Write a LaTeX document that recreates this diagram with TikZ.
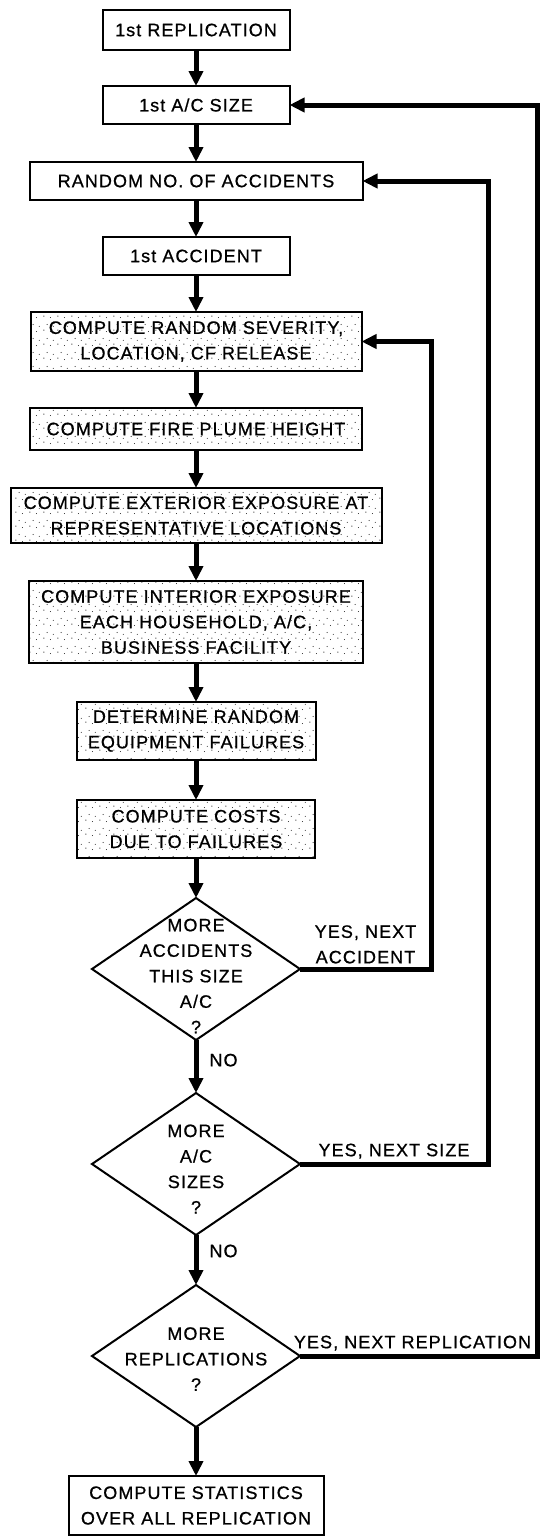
\documentclass[tikz,border=0pt]{standalone}
\usepackage{fontspec}
\setmainfont{Liberation Sans}
\newfontfamily\chartfont[LetterSpace=6, FakeBold=0.8]{Liberation Sans}
\usetikzlibrary{arrows.meta, positioning, shapes.geometric, patterns.meta}

\tikzdeclarepattern{
  name=stipple,
  bounding box={(0pt,0pt) and (14pt,14pt)},
  tile size={(14pt,14pt)},
  code={
    \pgfpathcircle{\pgfpoint{2pt}{3pt}}{0.6pt}
    \pgfpathcircle{\pgfpoint{9pt}{1.5pt}}{0.5pt}
    \pgfpathcircle{\pgfpoint{5.5pt}{9pt}}{0.6pt}
    \pgfpathcircle{\pgfpoint{12pt}{7pt}}{0.5pt}
    \pgfusepath{fill}
  }
}

\begin{document}
\begin{tikzpicture}[
    node distance=38pt,
    txt/.style={font=\chartfont\fontsize{18}{25.5}\selectfont, align=center},
    box/.style={draw, line width=2pt, txt, outer sep=0pt, inner sep=4pt,
                minimum height=38pt},
    dotbox/.style={box, pattern=stipple},
    decision/.style={diamond, draw, line width=2pt, outer sep=0pt, inner sep=0pt,
                     minimum width=208pt, minimum height=142pt},
    lbl/.style={txt, inner sep=3pt},
    arr/.style={-{Triangle[length=15pt, width=14pt]}, line width=5pt}
  ]
    \useasboundingbox (0,0) rectangle (540pt,-1537pt);
    \node[box, minimum width=187pt, minimum height=40pt] (repl) at (196pt,-30pt)
      {1st REPLICATION};
    \node[box, minimum width=187pt, below=36pt of repl] (acsize) {1st A/C SIZE};
    \node[box, minimum width=333pt, below=of acsize] (nacc) {RANDOM NO. OF ACCIDENTS};
    \node[box, minimum width=187pt, below=37pt of nacc] (acc1) {1st ACCIDENT};
    \node[dotbox, minimum width=331pt, minimum height=59pt, below=37pt of acc1] (sev)
      {COMPUTE RANDOM SEVERITY,\\LOCATION, CF RELEASE};
    \node[dotbox, minimum width=332pt, minimum height=42pt, below=37pt of sev] (plume)
      {COMPUTE FIRE PLUME HEIGHT};
    \node[dotbox, minimum width=371pt, minimum height=55pt, below=of plume] (ext)
      {COMPUTE EXTERIOR EXPOSURE AT\\REPRESENTATIVE LOCATIONS};
    \node[dotbox, minimum width=334pt, minimum height=82pt, below=of ext] (intr)
      {COMPUTE INTERIOR EXPOSURE\\EACH HOUSEHOLD, A/C,\\BUSINESS FACILITY};
    \node[dotbox, minimum width=239pt, minimum height=58pt, below=39pt of intr] (fail)
      {DETERMINE RANDOM\\EQUIPMENT FAILURES};
    \node[dotbox, minimum width=238pt, minimum height=58pt, below=40pt of fail] (cost)
      {COMPUTE COSTS\\DUE TO FAILURES};
    \node[decision, below=40pt of cost,
          label={[txt, yshift=-7pt]center:MORE\\ACCIDENTS\\THIS SIZE\\A/C\\?}] (moreacc) {};
    \node[decision, below=53pt of moreacc,
          label={[txt, yshift=-5pt]center:MORE\\A/C\\SIZES\\?}] (moresize) {};
    \node[decision, below=50pt of moresize,
          label={[txt, yshift=-3pt]center:MORE\\REPLICATIONS\\?}] (morerep) {};
    \node[box, minimum width=255pt, minimum height=59pt, below=49pt of morerep] (stats)
      {COMPUTE STATISTICS\\OVER ALL REPLICATION};

    % return rails on the right
    \coordinate (railacc) at (431pt,0);
    \coordinate (railsize) at (488pt,0);
    \coordinate (railrep) at (537pt,0);

    \draw[arr] (repl) -- (acsize);
    \draw[arr] (acsize) -- (nacc);
    \draw[arr] (nacc) -- (acc1);
    \draw[arr] (acc1) -- (sev);
    \draw[arr] (sev) -- (plume);
    \draw[arr] (plume) -- (ext);
    \draw[arr] (ext) -- (intr);
    \draw[arr] (intr) -- (fail);
    \draw[arr] (fail) -- (cost);
    \draw[arr] (cost) -- (moreacc);
    \draw[arr] (moreacc) -- node[lbl, right=8pt, pos=0.38] {NO} (moresize);
    \draw[arr] (moresize) -- node[lbl, right=8pt, pos=0.32] {NO} (morerep);
    \draw[arr] (morerep) -- (stats);

    \draw[arr] (moreacc.east) -- node[lbl, above] {YES, NEXT\\ACCIDENT}
      (moreacc.east -| railacc) |- (sev.east);
    \draw[arr] (moresize.east) -- node[lbl, above] {YES, NEXT SIZE}
      (moresize.east -| railsize) |- (nacc.east);
    \draw[arr] (morerep.east) -- node[lbl, above, xshift=-6pt] {YES, NEXT REPLICATION}
      (morerep.east -| railrep) |- (acsize.east);
\end{tikzpicture}
\end{document}
